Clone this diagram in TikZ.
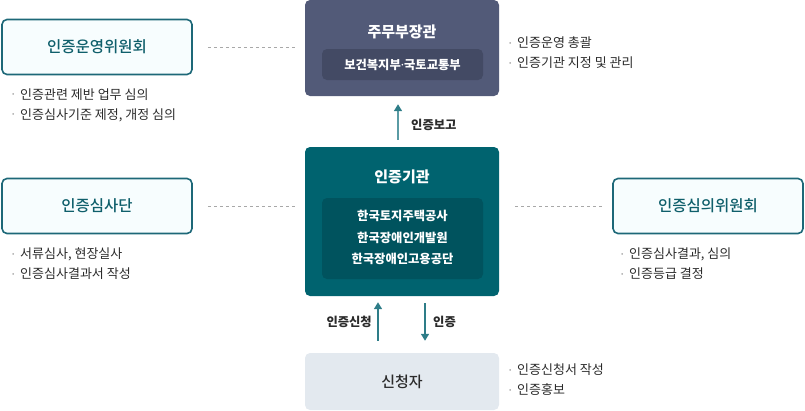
\documentclass[tikz,border=0pt]{standalone}
\usepackage{fontspec}
\setmainfont{Noto Sans CJK KR}
\newfontfamily\medfont{Noto Sans CJK KR Medium}
\newfontfamily\latinf{Noto Sans}
\usetikzlibrary{arrows.meta}
\definecolor{topfill}{HTML}{525A78}
\definecolor{topin}{HTML}{434A64}
\definecolor{midfill}{HTML}{00636F}
\definecolor{midin}{HTML}{00535E}
\definecolor{lowfill}{HTML}{E3E9EF}
\definecolor{edge}{HTML}{1D6878}
\definecolor{pale}{HTML}{F7FDFE}
\definecolor{ttl}{HTML}{0F5F6B}
\definecolor{txt}{HTML}{2B2B2B}
\definecolor{dotgray}{HTML}{AAAAAA}
\definecolor{dashgray}{HTML}{A8A8A8}
\definecolor{arr}{HTML}{2E7D88}
\definecolor{arrlight}{HTML}{5A9BA4}
\newcommand{\fs}[1]{\fontsize{#1}{#1}\selectfont}
\newcommand{\bul}{\makebox[8pt][l]{\raisebox{2.5pt}{\textcolor{dotgray}{\fs{7}•}}}}
\tikzset{
  sidebox/.style={draw=edge, line width=1.6pt, fill=pale, rounded corners=5pt,
    minimum width=190pt, minimum height=55pt, inner sep=0pt,
    text=ttl, font=\fs{15.5}\medfont},
  bigbox/.style={rounded corners=5pt, minimum width=194pt, inner sep=0pt},
  inbox/.style={rounded corners=5pt, minimum width=161pt, inner sep=0pt},
  wtitle/.style={text=white, font=\fs{15}\bfseries, inner sep=0pt},
  wtext/.style={text=white, font=\fs{12.3}\bfseries, inner sep=0pt},
  blist/.style={anchor=west, align=left, inner sep=0pt, text=txt,
    font=\fs{13}, execute at begin node={\setlength{\baselineskip}{20pt}}},
  conn/.style={draw=dashgray, line width=0.9pt, dash pattern=on 3pt off 3pt},
  flow/.style={draw=arr, line width=1.6pt, -{Triangle[length=7pt,width=8pt,color=arr]}},
  flowlbl/.style={text=txt, font=\fs{12.3}\bfseries, inner sep=0pt}
}
\begin{document}
\begin{tikzpicture}[x=1pt,y=-1pt]
\useasboundingbox (0,0) rectangle (805,410);
% top box
\node[bigbox, fill=topfill, minimum height=96pt] (top) at (402,48) {};
\node[wtitle] (toptitle) at (402,32) {주무부장관};
\node[inbox, fill=topin, minimum height=31pt] (topinner) at (402.5,64.5) {};
\node[wtext] (toptext) at (402.5,64.5) {보건복지부{\latinf ·}국토교통부};
% center box
\node[bigbox, fill=midfill, minimum height=149pt] (mid) at (402,221.5) {};
\node[wtitle] (midtitle) at (402,177) {인증기관};
\node[inbox, fill=midin, minimum height=81pt] (midinner) at (402.5,238.5) {};
\node[wtext] (m1) at (402.5,216) {한국토지주택공사};
\node[wtext] (m2) at (402.5,238) {한국장애인개발원};
\node[wtext] (m3) at (402.5,259) {한국장애인고용공단};
% bottom box
\node[bigbox, fill=lowfill, minimum height=57pt, text=txt, font=\fs{15}\medfont] (low) at (402,381.5) {신청자};
% side boxes
\node[sidebox] (ops) at (97,47) {인증운영위원회};
\node[sidebox] (audit) at (97,206) {인증심사단};
\node[sidebox] (review) at (708,206) {인증심의위원회};
% dashed connectors
\draw[conn, shorten <=15pt, shorten >=10pt] (ops.east) -- (ops.east -| top.west);
\draw[conn, shorten <=15pt, shorten >=9pt] (audit.east) -- (audit.east -| mid.west);
\draw[conn, shorten <=16pt, shorten >=10pt] (mid.east |- review.west) -- (review.west);
% arrows
\draw[flow, draw=arrlight, shorten <=7pt, shorten >=8pt] ([xshift=-4pt]mid.north) -- ([xshift=-4pt]top.south);
\node[flowlbl, anchor=west] (lblreport) at (411,125) {인증보고};
\draw[flow, shorten <=12pt, shorten >=6pt] ([xshift=-24pt]low.north) -- ([xshift=-24pt]mid.south);
\node[flowlbl, anchor=east] (lblapply) at (372,322) {인증신청};
\draw[flow, shorten <=7pt, shorten >=12pt] ([xshift=23pt]mid.south) -- ([xshift=23pt]low.north);
\node[flowlbl, anchor=west] (lblcert) at (433,322) {인증};
% bullet lists
\node[blist] (l1) at (12,105) {\bul 인증관련 제반 업무 심의\\\bul 인증심사기준 제정, 개정 심의};
\node[blist] (l2) at (12,264) {\bul 서류심사, 현장실사\\\bul 인증심사결과서 작성};
\node[blist] (l3) at (509,53) {\bul 인증운영 총괄\\\bul 인증기관 지정 및 관리};
\node[blist] (l4) at (621,264) {\bul 인증심사결과, 심의\\\bul 인증등급 결정};
\node[blist] (l5) at (509,380) {\bul 인증신청서 작성\\\bul 인증홍보};
\end{tikzpicture}
\end{document}
